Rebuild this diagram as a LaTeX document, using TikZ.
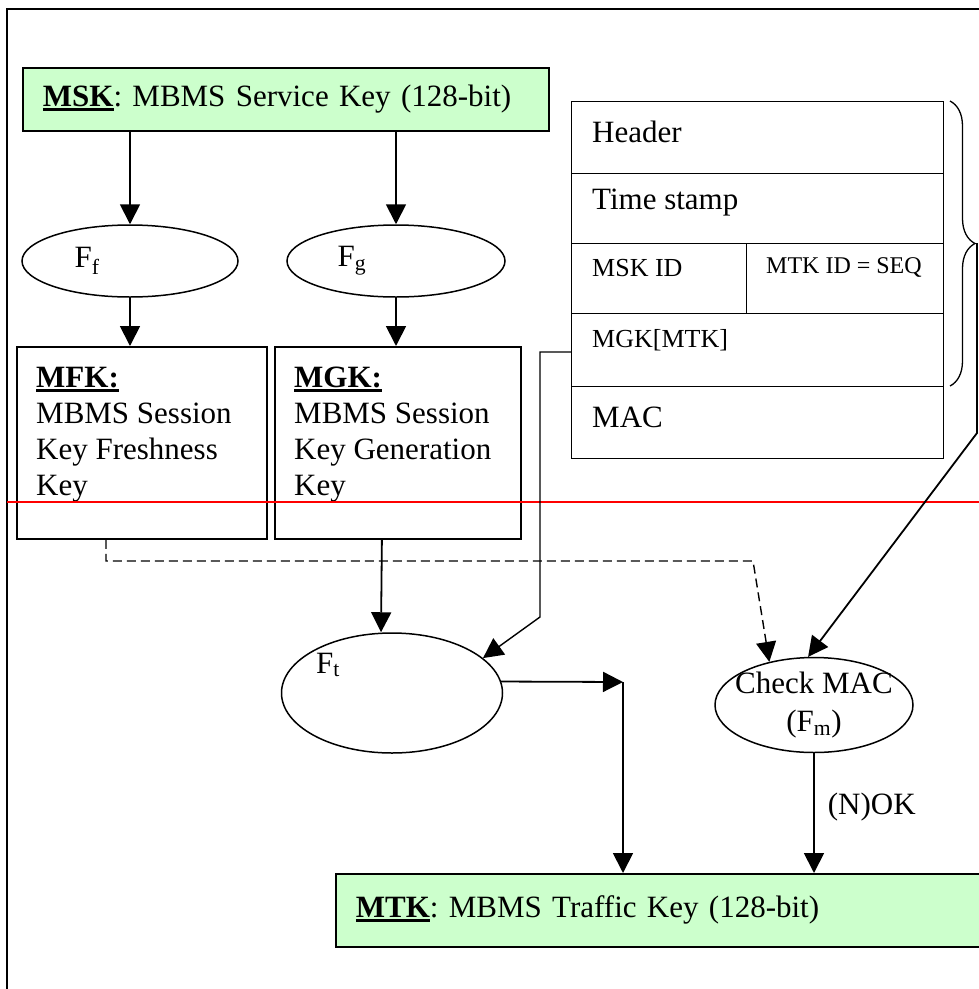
\documentclass[tikz,border=0pt]{standalone}
\usepackage{fontspec}
\setmainfont{Liberation Serif}
\usetikzlibrary{arrows.meta,shapes.geometric,decorations.pathreplacing}
\definecolor{keygreen}{HTML}{CCFFCC}
\newcommand{\keylabel}[1]{\setbox0=\hbox{\textbf{#1}}\rlap{\rule[-4pt]{\wd0}{2.5pt}}\box0}
\frenchspacing
\begin{document}
\begin{tikzpicture}[x=1pt, y=-1pt,
    every node/.style={font=\fontsize{31}{36}\selectfont},
    conn/.style={line width=1.8pt, -{Triangle[length=20pt,width=20pt]}},
    dashconn/.style={line width=1.4pt, dash pattern=on 9pt off 5pt, -{Triangle[length=20pt,width=20pt]}},
    keybox/.style={draw, line width=1.8pt, fill=keygreen, anchor=north west, inner xsep=20pt, inner ysep=0pt, align=left},
    keyframe/.style={draw, line width=1.8pt, anchor=north west, inner sep=0pt},
    func/.style={draw, ellipse, line width=1.5pt, inner sep=0pt},
    field/.style={draw, line width=1.3pt, anchor=north west, inner sep=0pt},
    fieldtext/.style={anchor=west, inner sep=0pt}]
  \useasboundingbox (0,0) rectangle (979,989);
  \draw[line width=2pt] (7,9) rectangle (1000,1010);

  \node[keybox, minimum width=526pt, minimum height=63pt, text width=486pt] (msk) at (22,67)
    {\keylabel{MSK}: MBMS Service Key (128-bit)};

  \node[func, minimum width=216pt, minimum height=72pt] (ff) at (130,261) {};
  \node[inner sep=0pt] (fftext) at ([xshift=-43pt]ff.center) {F\textsubscript{f}};
  \node[func, minimum width=218pt, minimum height=72pt] (fg) at (396,261) {};
  \node[inner sep=0pt] (fgtext) at ([xshift=-44pt]fg.center) {F\textsubscript{g}};

  \node[keyframe, minimum width=250pt, minimum height=192pt] (mfk) at (16,346) {};
  \node[anchor=north west, inner sep=0pt, align=left] (mfktext) at (36,367)
    {\keylabel{MFK:}\\MBMS Session\\Key Freshness\\Key};
  \node[keyframe, minimum width=246pt, minimum height=192pt] (mgk) at (274,346) {};
  \node[anchor=north west, inner sep=0pt, align=left] (mgktext) at (294,367)
    {\keylabel{MGK:}\\MBMS Session\\Key Generation\\Key};

  \node[field, minimum width=372pt, minimum height=72pt] (hdr) at (571,101) {};
  \node[field, minimum width=372pt, minimum height=70pt] (ts) at (571,173) {};
  \node[field, minimum width=175pt, minimum height=70pt] (mskid) at (571,243) {};
  \node[field, minimum width=197pt, minimum height=70pt] (mtkid) at (746,243) {};
  \node[field, minimum width=372pt, minimum height=73pt] (mgkmtk) at (571,313) {};
  \node[field, minimum width=372pt, minimum height=72pt] (mac) at (571,386) {};
  \node[fieldtext] (hdrtext) at (592,132) {Header};
  \node[fieldtext] (tstext) at (592,203) {Time stamp};
  \node[fieldtext, font=\fontsize{26}{30}\selectfont] (mskidtext) at (592,268) {MSK ID};
  \node[fieldtext, font=\fontsize{24}{28}\selectfont] (mtkidtext) at (766,267) {MTK ID = SEQ};
  \node[fieldtext, font=\fontsize{26}{30}\selectfont] (mgkmtktext) at (592,340) {MGK[MTK]};
  \node[fieldtext] (mactext) at (592,417) {MAC};
  \draw[line width=1.3pt, decorate, decoration={brace, amplitude=25pt}] (950,101) -- (950,386);
  \coordinate (bracetip) at (977,243);

  \draw[red, line width=1.5pt] (7,502) -- (979,502);

  \node[func, minimum width=221pt, minimum height=120pt] (ft) at (392,693) {};
  \node[inner sep=0pt] (fttext) at ([xshift=-64pt,yshift=28pt]ft.center) {F\textsubscript{t}};
  \node[func, minimum width=198pt, minimum height=95pt] (chk) at (814,705) {};
  \node[align=center, inner sep=0pt, font=\fontsize{31}{38}\selectfont] (chktext) at (chk.center)
    {Check MAC\\(F\textsubscript{m})};

  \node[keybox, minimum width=660pt, minimum height=73pt, text width=620pt] (mtk) at (335,873)
    {\keylabel{MTK}: MBMS Traffic Key (128-bit)};

  \draw[conn] (msk.south -| ff.north) -- (ff.north);
  \draw[conn] (msk.south -| fg.north) -- (fg.north);
  \draw[conn] (ff.south) -- (ff.south |- mfk.north);
  \draw[conn] (fg.south) -- (fg.south |- mgk.north);
  \draw[conn] ([xshift=-16pt]mgk.south) -- ([xshift=-11pt]ft.north);
  \draw[dashconn] (mfk.south -| 106,0) -- (106,561) -- (753,561) -- (chk.136);
  \draw[conn, line width=1.4pt] (mgkmtk.west |- 0,352) -- (540,352) -- (540,617) -- (ft.21);
  \draw[conn] (bracetip) -- (977,433) -- (chk.97);
  \coordinate (junc) at (623,682);
  \draw[conn] (ft.6) -- (junc);
  \draw[conn] (junc) -- (junc |- mtk.north);
  \draw[conn] (chk.south) -- (chk.south |- mtk.north)
    node[pos=.45, anchor=west, inner sep=0pt, xshift=13pt] (nok) {(N)OK};
\end{tikzpicture}
\end{document}
